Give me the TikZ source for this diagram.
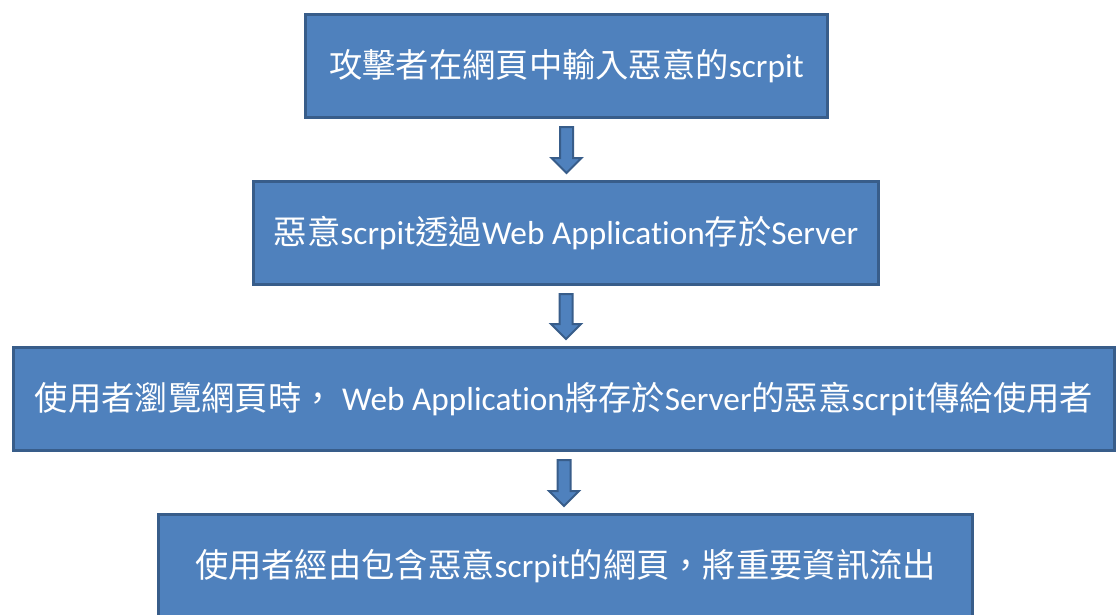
\documentclass[tikz,border=0pt]{standalone}
\usepackage{fontspec}
\setmainfont[Ligatures=NoCommon]{Carlito}
\newfontfamily\cjkfont{Noto Sans CJK TC}
\usetikzlibrary{calc}
\definecolor{boxfill}{HTML}{4F81BD}
\definecolor{boxline}{HTML}{385D8A}
\newcommand\C[1]{{\cjkfont #1}}
% downward block arrow between the bottom of one box and the top of the next
\newcommand\blockarrow[2]{%
  \path[arrowbody] let \p1=(#1.south), \p2=(#2.north) in
    (\x1-6.5pt,\y1-8pt) -- (\x1+6.5pt,\y1-8pt) -- (\x1+6.5pt,\y2+22pt)
    -- (\x1+15pt,\y2+22pt) -- (\x1,\y2+7pt) -- (\x1-15pt,\y2+22pt)
    -- (\x1-6.5pt,\y2+22pt) -- cycle;}
\tikzset{
  stepbox/.style={draw=boxline, fill=boxfill, line width=2.6pt,
    minimum height=103.4pt, inner sep=0pt, text=white,
    font=\fontsize{33.3}{38}\selectfont},
  arrowbody/.style={draw=boxline, fill=boxfill, line width=2pt, line join=miter},
}
\begin{document}
\begin{tikzpicture}[x=1pt,y=-1pt]
  \useasboundingbox (0,0) rectangle (1118,614);
  \clip (0,0) rectangle (1118,614);
  \fill[white] (0,0) rectangle (1118,614);
  \node[stepbox, minimum width=522.4pt] (b1) at (566.5,66)
    {\raisebox{-3pt}{\C{攻擊者在網頁中輸入惡意的}scrpit}};
  \node[stepbox, minimum width=625.4pt] (b2) at (566,233)
    {\raisebox{-2pt}{\C{惡意}scrpit\C{透過}Web Application\C{存於}Server}};
  \node[stepbox, minimum width=1101.4pt] (b3) at (564,399)
    {\raisebox{-2pt}{\C{使用者瀏覽網頁時，} Web Application\C{將存於}Server\C{的惡意}scrpit\C{傳給使用者}}};
  \node[stepbox, minimum width=814.4pt] (b4) at (565.5,566)
    {\raisebox{-1pt}{\C{使用者經由包含惡意}scrpit\C{的網頁，將重要資訊流出}}};
  \blockarrow{b1}{b2}
  \blockarrow{b2}{b3}
  \blockarrow{b3}{b4}
\end{tikzpicture}
\end{document}
